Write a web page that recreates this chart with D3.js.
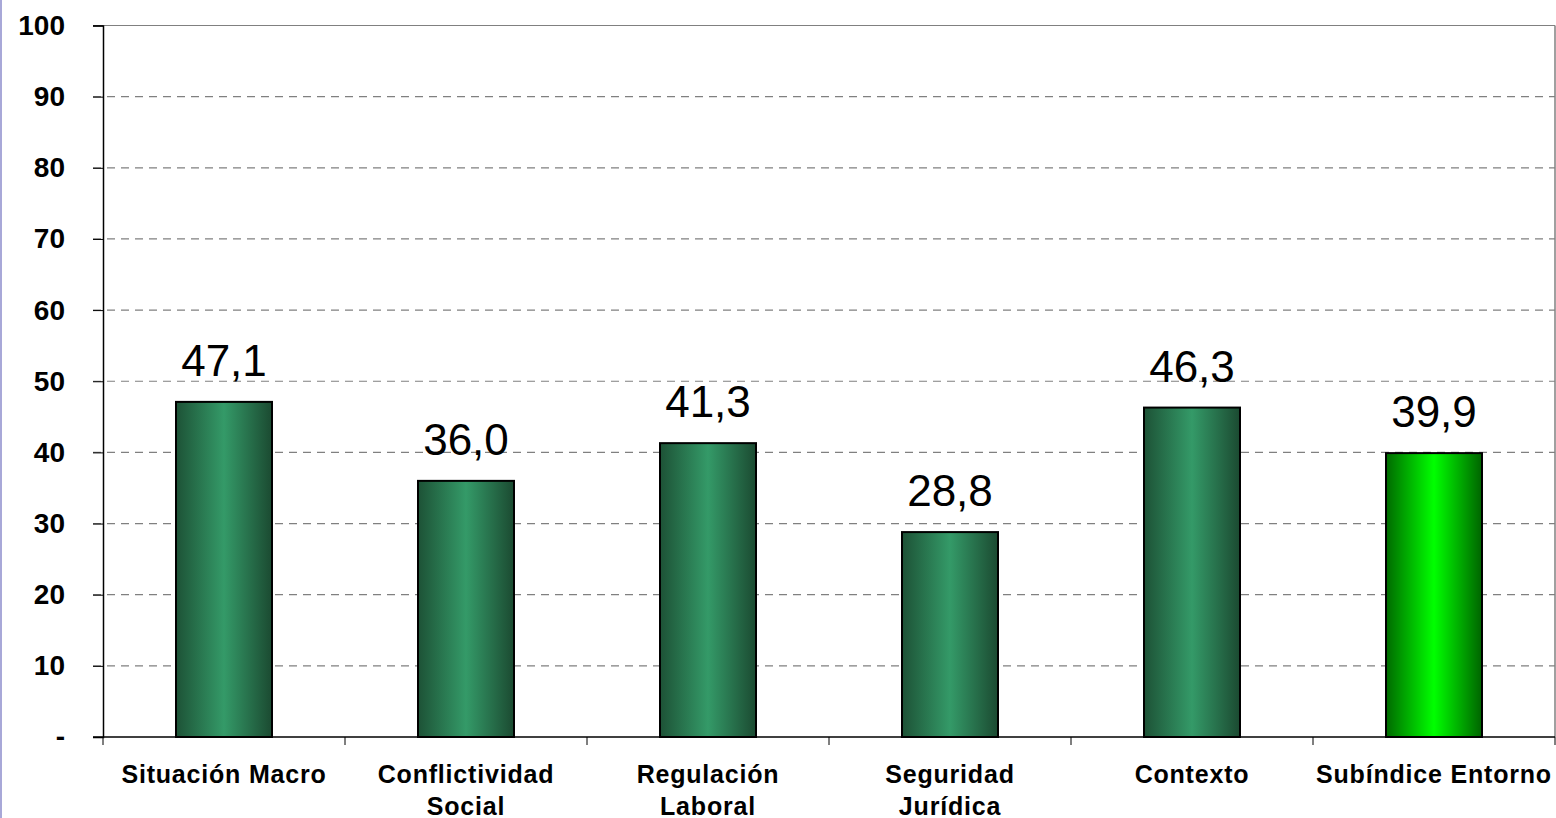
<!DOCTYPE html>
<html>
<head>
<meta charset="utf-8">
<script src="https://cdn.jsdelivr.net/npm/d3@7"></script>
<style>
  body { margin: 0; background: #fff; }
  svg { display: block; }
</style>
</head>
<body>
<script>
var categories = [["Situación Macro"], ["Conflictividad", "Social"], ["Regulación", "Laboral"], ["Seguridad", "Jurídica"], ["Contexto"], ["Subíndice Entorno"]];
var values = [47.1, 36.0, 41.3, 28.8, 46.3, 39.9];
var yTicks = [0, 10, 20, 30, 40, 50, 60, 70, 80, 90, 100];
var yTickLabels = ["-", "10", "20", "30", "40", "50", "60", "70", "80", "90", "100"];

var width = 1556, height = 818;
var plotLeft = 103, plotRight = 1555, plotTop = 25.5, plotBottom = 737;

var svg = d3.select("body").append("svg")
    .attr("width", width)
    .attr("height", height);

// thin blue band on the left edge
svg.append("rect").attr("x", 0).attr("y", 0).attr("width", 2).attr("height", height).attr("fill", "#a8a8d8");

var defs = svg.append("defs");
var g1 = defs.append("linearGradient").attr("id", "darkGreen");
g1.append("stop").attr("offset", "0%").attr("stop-color", "#1d5236");
g1.append("stop").attr("offset", "50%").attr("stop-color", "#349a68");
g1.append("stop").attr("offset", "100%").attr("stop-color", "#1b4a31");
var g2 = defs.append("linearGradient").attr("id", "brightGreen");
g2.append("stop").attr("offset", "0%").attr("stop-color", "#006a00");
g2.append("stop").attr("offset", "50%").attr("stop-color", "#00ff00");
g2.append("stop").attr("offset", "100%").attr("stop-color", "#006400");

var x = d3.scaleBand()
    .domain(d3.range(categories.length))
    .range([plotLeft, plotRight])
    .paddingInner(0).paddingOuter(0);

var y = d3.scaleLinear().domain([0, 100]).range([plotBottom, plotTop]);

// gridlines
svg.append("g").selectAll("line")
    .data(yTicks.filter(function(d) { return d > 0; }))
    .enter().append("line")
    .attr("x1", plotLeft - 10).attr("x2", plotRight)
    .attr("y1", function(d) { return y(d); })
    .attr("y2", function(d) { return y(d); })
    .attr("stroke", "#808080")
    .attr("stroke-width", 1.2)
    .attr("stroke-dasharray", function(d) { return d === 100 ? null : "8,6"; });

// right border
svg.append("line").attr("x1", plotRight).attr("x2", plotRight).attr("y1", plotTop).attr("y2", plotBottom)
    .attr("stroke", "#808080").attr("stroke-width", 1.5);

// y axis
var yAxis = d3.axisLeft(y).tickValues(yTicks)
    .tickFormat(function(d, i) { return yTickLabels[i]; })
    .tickSize(10).tickPadding(28);
var ya = svg.append("g").attr("transform", "translate(" + plotLeft + ",0)").call(yAxis);
ya.select(".domain").attr("stroke", "#000").attr("stroke-width", 1.5);
ya.selectAll(".tick line").attr("stroke", "#000");
ya.selectAll("text")
    .attr("font-family", "Liberation Sans, Arial, sans-serif")
    .attr("font-weight", "bold")
    .attr("font-size", 28)
    .attr("fill", "#000");

// bars
var bw = 96;
svg.append("g").selectAll("rect")
    .data(values)
    .enter().append("rect")
    .attr("x", function(d, i) { return x(i) + x.bandwidth() / 2 - bw / 2; })
    .attr("y", function(d) { return y(d); })
    .attr("width", bw)
    .attr("height", function(d) { return plotBottom - y(d); })
    .attr("fill", function(d, i) { return i === values.length - 1 ? "url(#brightGreen)" : "url(#darkGreen)"; })
    .attr("stroke", "#000")
    .attr("stroke-width", 2);

// value labels
svg.append("g").selectAll("text")
    .data(values)
    .enter().append("text")
    .attr("x", function(d, i) { return x(i) + x.bandwidth() / 2; })
    .attr("y", function(d) { return y(d) - 26; })
    .attr("text-anchor", "middle")
    .attr("font-family", "Liberation Sans, Arial, sans-serif")
    .attr("font-size", 44)
    .attr("fill", "#000")
    .text(function(d) { return d3.format(".1f")(d).replace(".", ","); });

// x axis
svg.append("line").attr("x1", plotLeft - 10).attr("x2", plotRight).attr("y1", plotBottom).attr("y2", plotBottom)
    .attr("stroke", "#000").attr("stroke-width", 1.5);
svg.append("g").selectAll("line")
    .data(d3.range(categories.length + 1))
    .enter().append("line")
    .attr("x1", function(i) { return plotLeft + i * x.bandwidth(); })
    .attr("x2", function(i) { return plotLeft + i * x.bandwidth(); })
    .attr("y1", plotBottom).attr("y2", plotBottom + 8)
    .attr("stroke", "#000");

var xl = svg.append("g").selectAll("text")
    .data(categories)
    .enter().append("text")
    .attr("x", function(d, i) { return x(i) + x.bandwidth() / 2; })
    .attr("y", 783)
    .attr("text-anchor", "middle")
    .attr("font-family", "Liberation Sans, Arial, sans-serif")
    .attr("font-weight", "bold")
    .attr("font-size", 25)
    .attr("letter-spacing", 0.8)
    .attr("fill", "#000");
xl.selectAll("tspan")
    .data(function(d) { return d; })
    .enter().append("tspan")
    .attr("x", function() { return d3.select(this.parentNode).attr("x"); })
    .attr("dy", function(d, i) { return i === 0 ? 0 : 32; })
    .text(function(d) { return d; });
</script>
</body>
</html>
